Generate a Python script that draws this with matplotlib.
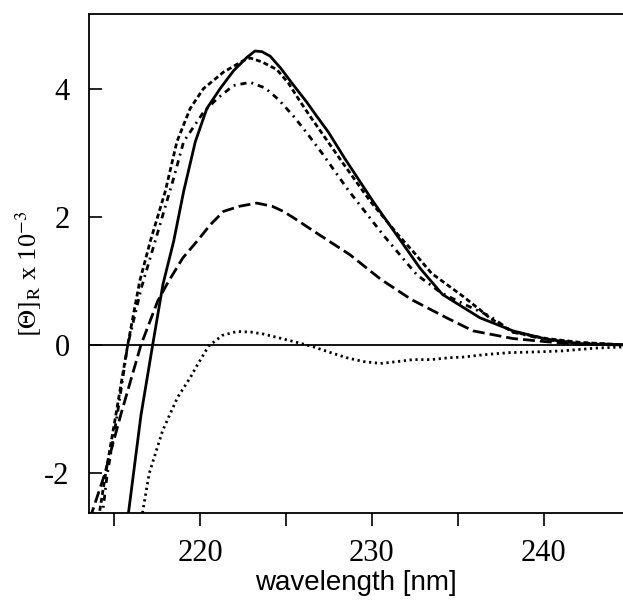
import matplotlib
matplotlib.use('Agg')
import matplotlib.pyplot as plt
import numpy as np

#######################################################################
#                                Data                                 #
#######################################################################
# solid curve
wl_solid = [215.8, 216.57, 217.25, 217.85, 218.47, 219.05, 219.73, 220.4, 221.17,
            221.95, 222.73, 223.2, 223.6, 224.08, 224.7, 225.34, 226.21, 226.79,
            227.47, 228.44, 230.08, 232.8, 234.1, 236.28, 238.2, 240.15, 242.1, 244.8]
th_solid = [-2.72, -1.1, 0.0, 0.95, 1.62, 2.40, 3.18, 3.70, 4.01,
            4.29, 4.50, 4.60, 4.59, 4.52, 4.33, 4.10, 3.80, 3.58,
            3.33, 2.91, 2.24, 1.20, 0.79, 0.425, 0.22, 0.09, 0.02, 0.0]

# short dashed curve
wl_sdash = [214.1, 214.5, 215.12, 215.8, 216.5, 217.11, 217.98, 218.66, 219.43,
            220.2, 221.37, 222.53, 222.92, 223.6, 224.47, 225.14, 225.8,
            226.4, 228.3, 229.9, 231.53, 232.4, 233.47, 235.3, 236.28, 236.86,
            238.2, 240.15, 242.1, 244.8]
th_sdash = [-2.72, -2.04, -1.08, 0.0, 1.0, 1.62, 2.40, 3.18, 3.70,
            4.01, 4.27, 4.45, 4.49, 4.43, 4.31, 4.10, 3.82,
            3.58, 2.85, 2.25, 1.72, 1.46, 1.12, 0.76, 0.55, 0.42,
            0.20, 0.10, 0.04, 0.0]

# dash-dot curve
wl_dashdot = [214.3, 214.6, 215.2, 215.8, 216.6, 217.5, 218.47, 219.05, 220.2,
              220.98, 221.95, 222.92, 223.8, 224.57, 225.44, 226.21, 227.1, 228.63,
              230.66, 232.6, 234.0, 235.5, 236.86, 238.2, 240.15, 242.1, 244.8]
th_dashdot = [-2.72, -2.04, -1.08, 0.0, 0.9, 1.72, 2.61, 3.18, 3.64,
              3.85, 4.06, 4.11, 4.02, 3.84, 3.58, 3.32, 3.0, 2.42,
              1.72, 1.10, 0.82, 0.62, 0.45, 0.20, 0.08, 0.03, 0.0]

# long dashed curve
wl_ldash = [213.6, 214.44, 215.41, 216.57, 217.54, 218.12, 219.0, 219.82, 220.6,
            221.37, 222.3, 223.3, 224.2, 224.85, 225.5, 226.79, 228.73, 230.5,
            232.3, 234.34, 235.88, 238.2, 240.15, 242.1, 244.8]
th_ldash = [-2.72, -2.04, -1.08, 0.0, 0.685, 0.97, 1.36, 1.62, 1.88,
            2.09, 2.17, 2.22, 2.17, 2.09, 1.98, 1.75, 1.41, 1.03,
            0.71, 0.425, 0.22, 0.10, 0.05, 0.01, 0.0]

# dotted curve
wl_dot = [216.6, 217.05, 217.83, 218.7, 219.44, 219.77, 220.5, 221.3, 222.15,
          223.0, 223.7, 224.6, 225.63, 226.6, 227.6, 228.53, 229.5, 230.5,
          231.5, 232.4, 233.4, 234.5, 235.3, 236.28, 236.86, 238.02, 239.5,
          241.1, 243.0, 244.8]
th_dot = [-2.72, -2.01, -1.34, -0.82, -0.51, -0.35, -0.02, 0.15, 0.21,
          0.20, 0.17, 0.11, 0.04, -0.03, -0.12, -0.2, -0.26, -0.29,
          -0.26, -0.23, -0.23, -0.2, -0.19, -0.16, -0.145, -0.12, -0.11,
          -0.093, -0.05, -0.03]

#######################################################################
#                                Plot                                 #
#######################################################################
plt.rcParams['mathtext.fontset'] = 'stix'
serif = ['Liberation Serif', 'DejaVu Serif']

fig = plt.figure(figsize=(6.23, 6.06), dpi=100)
ax = fig.add_axes([0.1429, 0.1535, 0.8571, 0.8235])

lw = 2.0
ax.axhline(0, color='black', lw=1.3, zorder=1)
ax.plot(wl_solid, th_solid, color='black', lw=lw, solid_joinstyle='round')
ax.plot(wl_sdash, th_sdash, color='black', lw=lw, dashes=(1.8, 1.1))
ax.plot(wl_dashdot, th_dashdot, color='black', lw=lw, dashes=(2.2, 1.8, 0.7, 1.8))
ax.plot(wl_ldash, th_ldash, color='black', lw=lw, dashes=(4.3, 1.8))
ax.plot(wl_dot, th_dot, color='black', lw=lw, dashes=(0.8, 1.3))

ax.set_xlim(213.55, 244.6)
ax.set_ylim(-2.63, 5.18)

ax.spines['right'].set_visible(False)
for s in ['left', 'bottom', 'top']:
    ax.spines[s].set_linewidth(1.3)

ax.set_xticks([220, 230, 240])
ax.set_xticks([215, 225, 235], minor=True)
ax.set_yticks([-2, 0, 2, 4])
ax.set_yticklabels(['-2', '0', '2', '4'])
ax.tick_params(axis='x', which='both', direction='out', length=9, width=1.2,
               pad=10, labelsize=22)
ax.tick_params(axis='y', direction='in', length=9, width=1.2, pad=14,
               labelsize=22)
for lab in ax.get_xticklabels() + ax.get_yticklabels():
    lab.set_family(serif)

ax.set_xlabel('wavelength [nm]', family=['Liberation Sans', 'DejaVu Sans'],
              fontsize=20, labelpad=1)
ax.set_ylabel(r'$[\Theta]_{\mathrm{R}}$ x 10$^{-3}$', family=serif,
              fontsize=19)
ax.yaxis.set_label_coords(-0.085, 0.48)

fig.savefig('out.png', dpi=100)
